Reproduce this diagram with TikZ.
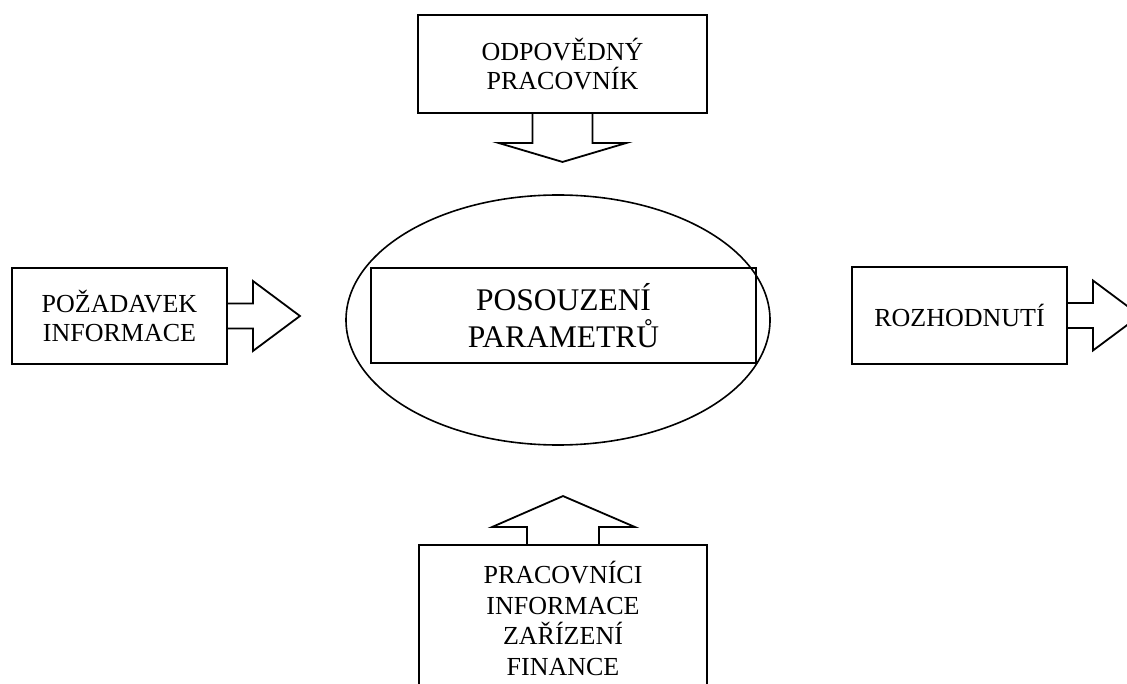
\documentclass[tikz,border=0pt]{standalone}
\usepackage{fontspec}
\setmainfont{Liberation Serif}
\usetikzlibrary{shapes.geometric,calc}
\begin{document}
\begin{tikzpicture}[x=1pt,y=-1pt,
  box/.style={draw, line width=1.9pt, rectangle, inner sep=0pt, align=center, font=\fontsize{26}{29}\selectfont},
  blk/.style={draw, line width=1.8pt, line join=miter},
]
\useasboundingbox (0,0) rectangle (1127,684);
\clip (0,0) rectangle (1127,684);
% ellipse and central box
\node[draw, line width=1.6pt, ellipse, inner sep=0pt, minimum width=424, minimum height=250] (ell) at (558,320) {};
\node[box, minimum width=385, minimum height=95, font=\fontsize{31.5}{37}\selectfont] (mid) at (563.5,315.5) {POSOUZENÍ\\PARAMETRŮ};
% boxes
\node[box, minimum width=289, minimum height=98] (top) at (562.5,64) {ODPOVĚDNÝ\\PRACOVNÍK};
\node[box, minimum width=215, minimum height=96] (lft) at (119.5,316) {POŽADAVEK\\INFORMACE};
\node[box, minimum width=215, minimum height=97] (rgt) at (959.5,315.5) {ROZHODNUTÍ};
\node[box, minimum width=288, minimum height=147, font=\fontsize{26}{30.5}\selectfont] (bot) at (563,618.5) {PRACOVNÍCI\\INFORMACE\\ZAŘÍZENÍ\\FINANCE};
% block arrows
\draw[blk] ($(top.south)+(-30,0)$) -- ($(top.south)+(-30,29)$) -- ($(top.south)+(-64,29)$)
  -- ($(top.south)+(0,48)$) -- ($(top.south)+(64,29)$) -- ($(top.south)+(30,29)$) -- ($(top.south)+(30,0)$);
\draw[blk] ($(bot.north)+(-36,0)$) -- ($(bot.north)+(-36,-17)$) -- ($(bot.north)+(-71,-17)$)
  -- ($(bot.north)+(0,-48)$) -- ($(bot.north)+(72,-17)$) -- ($(bot.north)+(36,-17)$) -- ($(bot.north)+(36,0)$);
\draw[blk] ($(lft.east)+(0,-12.5)$) -- ($(lft.east)+(25,-12.5)$) -- ($(lft.east)+(25,-35)$)
  -- ($(lft.east)+(72,0)$) -- ($(lft.east)+(25,35)$) -- ($(lft.east)+(25,12.5)$) -- ($(lft.east)+(0,12.5)$);
\draw[blk] ($(rgt.east)+(0,-12.5)$) -- ($(rgt.east)+(25,-12.5)$) -- ($(rgt.east)+(25,-35)$)
  -- ($(rgt.east)+(72,0)$) -- ($(rgt.east)+(25,35)$) -- ($(rgt.east)+(25,12.5)$) -- ($(rgt.east)+(0,12.5)$);
\end{tikzpicture}
\end{document}
